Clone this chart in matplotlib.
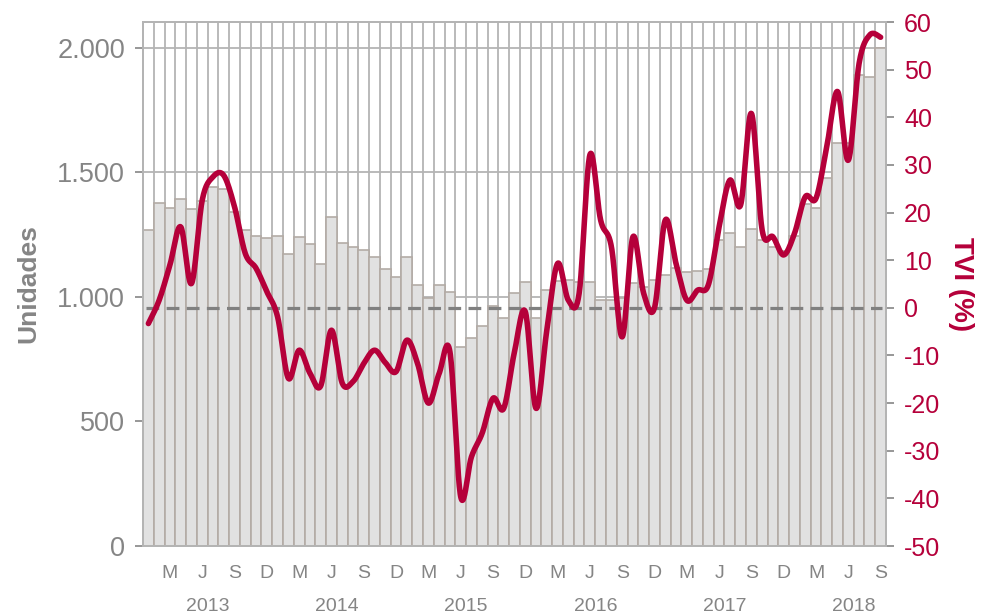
import matplotlib.pyplot as plt
import matplotlib.transforms as mtransforms
import numpy as np

# monthly data, Jan 2013 - Sep 2018
unidades = [1269, 1376, 1359, 1392, 1353, 1385, 1443, 1434, 1343, 1269, 1245, 1238,
            1245, 1171, 1240, 1212, 1134, 1320, 1218, 1200, 1190, 1161, 1113, 1079,
            1162, 1048, 997, 1048, 1021, 800, 834, 885, 964, 914, 1015, 1061,
            917, 1028, 1065, 1068, 1060, 1061, 986, 988, 995, 1056, 1041, 1068,
            1088, 1115, 1099, 1106, 1111, 1229, 1256, 1202, 1273, 1229, 1202, 1185,
            1243, 1373, 1356, 1477, 1617, 1617, 1892, 1885, 1999]
tvi = [-3.3, 1.6, 9.0, 17.0, 5.1, 22.6, 27.5, 27.8, 21.2, 11.4, 8.3, 3.4,
       -1.9, -14.8, -8.9, -13.7, -16.4, -4.7, -15.8, -15.5, -11.7, -8.9, -11.5, -13.4,
       -6.8, -11.7, -20.0, -13.8, -9.2, -39.6, -31.3, -26.3, -19.0, -21.1, -9.2, -0.8,
       -21.1, -4.7, 9.3, 1.6, 3.0, 32.1, 18.4, 12.8, -6.1, 14.9, 3.0, 0.0,
       18.4, 9.3, 1.6, 3.7, 4.8, 17.0, 26.8, 21.6, 40.8, 16.3, 14.9, 11.1,
       15.6, 23.3, 23.0, 33.8, 45.4, 31.0, 51.3, 57.3, 56.8]
month_letters = {2: 'M', 5: 'J', 8: 'S', 11: 'D'}
years = ['2013', '2014', '2015', '2016', '2017', '2018']

GRAY = '#858585'
GRID = '#b4b4b4'
RED = '#b5003a'
plt.rcParams['font.family'] = ['Liberation Sans', 'DejaVu Sans']
plt.rcParams['axes.unicode_minus'] = False


def smooth(x, y, n=24):
    # catmull-rom curve through the points (like the spreadsheet "smoothed line")
    pts = np.column_stack([x, y]).astype(float)
    p = np.vstack([pts[0], pts, pts[-1]])
    t = np.linspace(0, 1, n, endpoint=False)[:, None]
    segs = []
    for i in range(1, len(p) - 2):
        p0, p1, p2, p3 = p[i - 1], p[i], p[i + 1], p[i + 2]
        segs.append(0.5 * (2 * p1 + (-p0 + p2) * t + (2 * p0 - 5 * p1 + 4 * p2 - p3) * t ** 2
                           + (-p0 + 3 * p1 - 3 * p2 + p3) * t ** 3))
    segs.append(pts[-1:])
    s = np.vstack(segs)
    return s[:, 0], s[:, 1]


x = np.arange(len(unidades))

fig = plt.figure(figsize=(9.85, 6.16), dpi=100)
ax = fig.add_axes([143 / 985, 1 - 546 / 616, 743 / 985, 524 / 616])
ax2 = ax.twinx()

ax.set_axisbelow(True)
ax.bar(x, unidades, width=1.0, color='#e1e1e1', edgecolor='#b3aba5', linewidth=1.2, zorder=2)
ax.set_xlim(-0.5, len(x) - 0.5)
ax.set_ylim(0, 2104)
ax.set_yticks([0, 500, 1000, 1500, 2000])
ax.set_yticklabels(['0', '500', '1.000', '1.500', '2.000'])
ax.set_xticks(x - 0.5, minor=True)
ax.grid(True, which='minor', axis='x', color=GRID, lw=1.3, zorder=0)
ax.grid(True, which='major', axis='y', color=GRID, lw=1.3, zorder=0)

ticks = [i for i in x if i % 12 in month_letters]
ax.set_xticks(ticks)
ax.set_xticklabels([month_letters[i % 12] for i in ticks])
ax.tick_params(axis='x', which='both', length=0, pad=14, labelsize=14, labelcolor=GRAY)
ax.tick_params(axis='y', length=6, width=1.2, color=GRAY, labelsize=19.5, labelcolor=GRAY, pad=7)
ax.set_ylabel('Unidades', fontsize=19, fontweight='bold', color=GRAY, labelpad=12)

trans = mtransforms.blended_transform_factory(ax.transData, ax.transAxes)
for k, yr in enumerate(years):
    ax.text(12 * k + 5.5, -0.115, yr, transform=trans, ha='center', va='center',
            fontsize=14, color=GRAY)

for s in ax.spines.values():
    s.set_color(GRID)
    s.set_linewidth(1.3)
for s in ax2.spines.values():
    s.set_color(GRID)
    s.set_linewidth(1.3)

ax2.set_ylim(-50, 60)
ax2.set_yticks(range(-50, 61, 10))
ax2.tick_params(axis='y', length=6, width=1.2, color=GRAY, labelsize=18, labelcolor=RED, pad=7)
ax2.set_ylabel('TVI (%)', fontsize=20, fontweight='bold', color=RED, rotation=270, labelpad=24)

ax2.plot([x[0] - 0.2, x[-1] + 0.1], [0, 0], color='#808080', lw=2.3, ls=(0, (4, 2.3)), zorder=2)
sx, sy = smooth(x, tvi)
ax2.plot(sx, sy, color=RED, lw=4, solid_capstyle='round', solid_joinstyle='round', zorder=3)

fig.savefig('out.png', dpi=100)
